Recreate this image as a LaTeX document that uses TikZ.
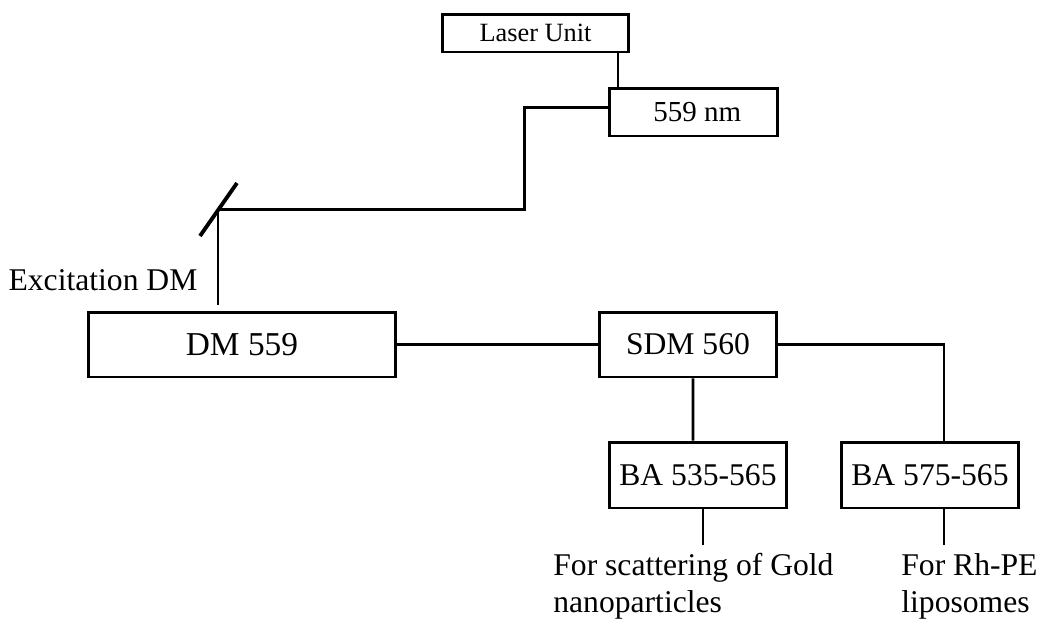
\documentclass[tikz,border=0pt]{standalone}
\usepackage{fontspec}
\setmainfont{Liberation Serif}
\usetikzlibrary{calc, positioning}

\begin{document}
\begin{tikzpicture}[x=0.02cm, y=-0.02cm,
    box/.style={draw, line width=1.7pt, inner sep=0pt},
    wire/.style={line width=1.7pt},
    note/.style={inner sep=0pt, align=left}]
  % Frame
  \useasboundingbox (0,0) rectangle (1039,623);

  % Boxes
  \node[box, minimum width=3.74cm, minimum height=0.76cm, font=\fontsize{15}{18}\selectfont] (laser) at (535.5,33) {Laser Unit};
  \node[box, minimum width=3.38cm, minimum height=0.96cm, font=\fontsize{16.5}{19}\selectfont] (nm) at (693.5,112) {\hspace{0.15cm}559 nm};
  \node[box, minimum width=6.16cm, minimum height=1.3cm, font=\fontsize{19}{22}\selectfont] (dm) at (242,344.5) {DM 559};
  \node[box, minimum width=3.56cm, minimum height=1.3cm, font=\fontsize{18}{22}\selectfont] (sdm) at (688,344.5) {SDM 560};
  \node[box, minimum width=3.56cm, minimum height=1.32cm, font=\fontsize{18}{22}\selectfont] (baone) at (698,475) {BA 535-565};
  \node[box, minimum width=3.56cm, minimum height=1.32cm, font=\fontsize{18}{22}\selectfont] (batwo) at (930,475) {BA 575-565};

  % Labels
  \node[note, font=\fontsize{18}{21}\selectfont] (exc) at (103,280) {Excitation DM};
  \node[note, anchor=north west, font=\fontsize{18}{21}\selectfont] (gold) at (553,553) {For scattering of Gold\\nanoparticles};
  \node[note, anchor=north west, font=\fontsize{18}{21}\selectfont] (rh) at (901,553) {For Rh-PE\\liposomes};

  % Mirror
  \coordinate (mirror) at (218,209);
  \draw[line width=2.2pt] (200,236) -- (237,183);

  % Beam path
  \coordinate (lz) at (618,0);
  \draw[wire] (lz |- laser.south) -- (lz |- nm.north);
  \draw[wire] ([yshift=0.1cm]nm.west) -- ++(-83,0) |- (mirror);
  \draw[wire, shorten >=0.12cm] (mirror) -- (mirror |- dm.north);
  \draw[wire] (dm.east) -- (sdm.west);
  \draw[wire] ([xshift=0.1cm]sdm.south) -- ([xshift=-0.1cm]baone.north);
  \draw[wire] (sdm.east) -| ([xshift=0.28cm]batwo.north);
  \draw[wire] ([xshift=0.1cm]baone.south) -- ++(0,36);
  \draw[wire] ([xshift=0.28cm]batwo.south) -- ++(0,36);
\end{tikzpicture}
\end{document}
